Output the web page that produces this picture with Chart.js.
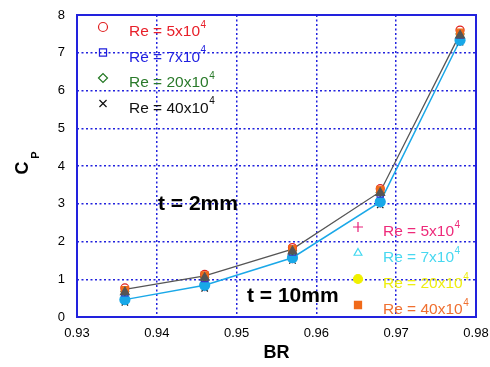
<!DOCTYPE html>
<html>
<head>
<meta charset="utf-8">
<script src="https://cdn.jsdelivr.net/npm/chart.js@4/dist/chart.umd.min.js"></script>
<style>
  html, body { margin: 0; padding: 0; background: #fff; }
  #wrap { width: 490px; height: 367px; }
</style>
</head>
<body>
<div id="wrap"><canvas id="cpChart" width="490" height="367"></canvas></div>
<script>
const brValues = [0.936, 0.946, 0.957, 0.968, 0.978];
const xTicks = [0.93, 0.94, 0.95, 0.96, 0.97, 0.98];
const yTicks = [0, 1, 2, 3, 4, 5, 6, 7, 8];

// connecting lines
const cpLine2mm = [0.73, 1.09, 1.8, 3.32, 7.5];
const cpLine10mm = [0.46, 0.84, 1.57, 3.05, 7.33];

// t = 2mm markers
const cp2Re5 = [0.77, 1.13, 1.84, 3.4, 7.6];
const cp2Re7 = [0.64, 1.02, 1.72, 3.26, 7.47];
const cp2Re20 = [0.68, 1.05, 1.76, 3.3, 7.5];
const cp2Re40 = [0.71, 1.1, 1.8, 3.37, 7.53];
const cp2Tri = [0.66, 1.04, 1.74, 3.29, 7.46];

// t = 10mm markers
const cp10Re5 = [0.44, 0.8, 1.54, 3.01, 7.3];
const cp10Re40 = [0.39, 0.76, 1.5, 2.97, 7.28];
const cp10Dot = [0.46, 0.84, 1.57, 3.05, 7.33];

const legendTop = ["Re = 5x10", "Re = 7x10", "Re = 20x10", "Re = 40x10"];
const legendBottom = ["Re = 5x10", "Re = 7x10", "Re = 20x10", "Re = 40x10"];

const pts = arr => brValues.map((x, i) => ({ x: x, y: arr[i] }));

function markerSet(label, arr, style, color, fill, r) {
  return {
    label: label,
    data: pts(arr),
    showLine: false,
    pointStyle: style,
    pointRadius: r,
    pointBorderColor: color,
    pointBackgroundColor: fill ? color : "rgba(0,0,0,0)",
    pointBorderWidth: 1.2
  };
}

const blue = "#2222dd";
const FONT = "'Liberation Sans', Arial, sans-serif";

const overlay = {
  id: "overlay",
  afterDraw(chart) {
    const c = chart.ctx;
    const a = chart.chartArea;
    c.save();
    // frame
    c.strokeStyle = blue;
    c.lineWidth = 2;
    c.strokeRect(a.left, a.top, a.right - a.left, a.bottom - a.top);

    const drawPoint = Chart.helpers.drawPoint;
    function sup(txt, x, y, color) {
      c.fillStyle = color;
      c.font = "15.5px " + FONT;
      c.textBaseline = "middle";
      c.textAlign = "left";
      c.fillText(txt, x, y);
      const w = c.measureText(txt).width;
      c.font = "10px " + FONT;
      c.fillText("4", x + w + 0.5, y - 7);
    }
    function marker(style, color, fill, x, y, r) {
      c.strokeStyle = color;
      c.fillStyle = fill ? color : "rgba(0,0,0,0)";
      c.lineWidth = 1.2;
      drawPoint(c, { pointStyle: style, radius: r, rotation: 0, borderWidth: 1.2 }, x, y);
    }

    // legend upper left
    const topStyles = [["circle", "#e02020", false, 4.5], ["rect", "#2020dd", false, 5], ["rectRot", "#227722", false, 4.5], ["crossRot", "#111111", false, 5]];
    const topColors = ["#e8202a", "#1f1fe0", "#2a7a2a", "#111111"];
    legendTop.forEach((t, i) => {
      const y = a.top + 13 + i * 25.5;
      const s = topStyles[i];
      marker(s[0], s[1], s[2], a.left + 26, y - 1, s[3]);
      sup(t, a.left + 52, y + 4, topColors[i]);
    });

    // legend lower right
    const botStyles = [["cross", "#e8207a", false, 5], ["triangle", "#40d8f0", false, 4.5], ["circle", "#f0f000", true, 4.5], ["rect", "#f06a1a", true, 5]];
    const botColors = ["#ee2a7a", "#48d8f0", "#eeee10", "#f07030"];
    legendBottom.forEach((t, i) => {
      const y = a.top + 214 + i * 26;
      const s = botStyles[i];
      marker(s[0], s[1], s[2], a.left + 281, y - 2, s[3]);
      sup(t, a.left + 306, y + 3, botColors[i]);
    });

    // annotations
    c.fillStyle = "#000";
    c.font = "bold 21px " + FONT;
    c.textAlign = "left";
    c.textBaseline = "middle";
    c.fillText("t = 2mm", a.left + 81, 204);
    c.fillText("t = 10mm", a.left + 170, 296);

    // axis titles
    c.font = "bold 18px " + FONT;
    c.textAlign = "center";
    c.fillText("BR", (a.left + a.right) / 2, 353);
    c.save();
    c.translate(23, 168);
    c.rotate(-Math.PI / 2);
    c.fillText("C", 0, 0);
    c.font = "bold 11px " + FONT;
    c.fillText("P", 13, 13);
    c.restore();
    c.restore();
  }
};

const ctx = document.getElementById("cpChart").getContext("2d");
const chart = new Chart(ctx, {
  type: "scatter",
  data: {
    datasets: [
      markerSet("tri 2mm", cp2Tri, "triangle", "#555555", true, 5),
      markerSet("Re40 2mm", cp2Re40, "rect", "#f06a1a", true, 5),
      markerSet("Re5 2mm", cp2Re5, "circle", "#e02020", false, 4),
      markerSet("Re7 2mm", cp2Re7, "rect", "#4030c0", false, 4.5),
      markerSet("Re20 2mm", cp2Re20, "rectRot", "#227722", false, 4),
      markerSet("dot 10mm", cp10Dot, "circle", "#18a8e8", true, 5),
      markerSet("Re40 10mm", cp10Re40, "crossRot", "#111111", false, 4.5),
      markerSet("Re5 10mm", cp10Re5, "cross", "#e8207a", false, 4.5),
      {
        label: "t = 2mm",
        data: pts(cpLine2mm),
        showLine: true,
        borderColor: "#555555",
        borderWidth: 1.3,
        pointRadius: 0
      },
      {
        label: "t = 10mm",
        data: pts(cpLine10mm),
        showLine: true,
        borderColor: "#1aa8e8",
        borderWidth: 1.5,
        pointRadius: 0
      }
    ]
  },
  options: {
    responsive: false,
    animation: false,
    layout: { padding: { top: 15, right: 14, left: 0, bottom: 0 } },
    plugins: { legend: { display: false }, tooltip: { enabled: false } },
    scales: {
      x: {
        type: "linear",
        min: 0.93,
        max: 0.98,
        afterBuildTicks: s => { s.ticks = xTicks.map(v => ({ value: v })); },
        afterFit: s => { s.height = 50; s.paddingLeft = 0; s.paddingRight = 0; },
        grid: { color: blue, lineWidth: 1.5, drawTicks: false },
        border: { display: false, dash: [2, 2.5] },
        ticks: { color: "#000", padding: 9, font: { family: FONT, size: 13 }, callback: v => v.toFixed(2), maxRotation: 0 }
      },
      y: {
        min: 0,
        max: 8,
        afterBuildTicks: s => { s.ticks = yTicks.map(v => ({ value: v })); },
        afterFit: s => { s.width = 77; s.paddingTop = 0; s.paddingBottom = 0; },
        grid: { color: blue, lineWidth: 1.5, drawTicks: false },
        border: { display: false, dash: [2, 2.5] },
        ticks: { color: "#000", padding: 12, font: { family: FONT, size: 13 } }
      }
    }
  },
  plugins: [overlay]
});
</script>
</body>
</html>
